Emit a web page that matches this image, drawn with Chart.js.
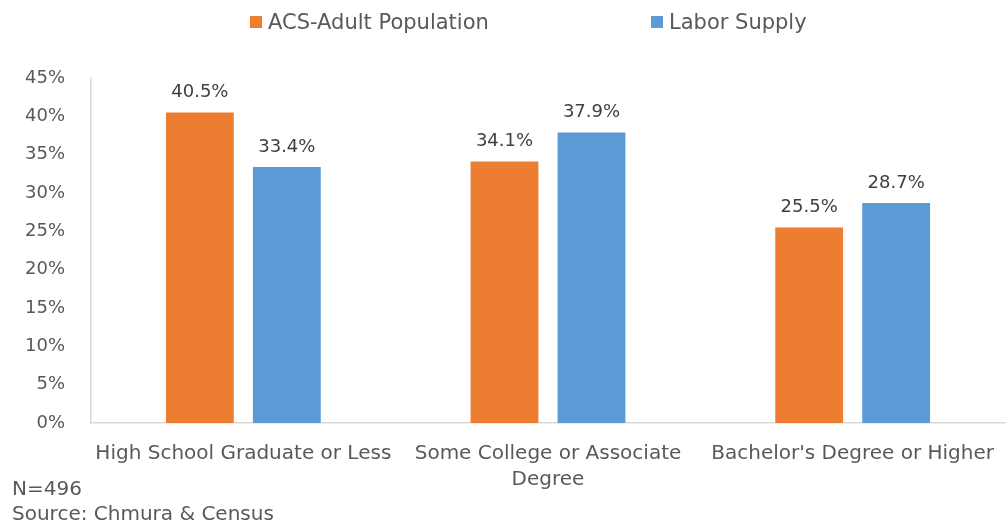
<!DOCTYPE html>
<html>
<head>
<meta charset="utf-8">
<script src="https://cdn.jsdelivr.net/npm/chart.js@4"></script>
<style>
  body { margin: 0; background: #fff; font-family: "DejaVu Sans", sans-serif; color: #595959; }
  #wrap { position: relative; width: 1006px; height: 525px; }
  #legend { position: absolute; top: 10px; left: 0; width: 1006px; height: 28px; }
  .item { position: absolute; display: flex; align-items: center; font-size: 21px; white-space: nowrap; }
  .item i { display: inline-block; width: 12px; height: 12px; margin-right: 6px; }
  .note { position: absolute; left: 12px; font-size: 20px; white-space: nowrap; }
</style>
</head>
<body>
<div id="wrap">
  <canvas id="chart" width="1006" height="525"></canvas>
  <div id="legend"></div>
  <div class="note" style="top:476px">N=496</div>
  <div class="note" style="top:501px">Source: Chmura &amp; Census</div>
</div>
<script>
const categories = [
  "High School Graduate or Less",
  ["Some College or Associate", "Degree"],
  "Bachelor's Degree or Higher"
];
const seriesNames = ["ACS-Adult Population", "Labor Supply"];
const acsAdult = [40.5, 34.1, 25.5];
const laborSupply = [33.4, 37.9, 28.7];
const yTicks = [0, 5, 10, 15, 20, 25, 30, 35, 40, 45];

const colors = ["#ED7D31", "#5B9BD5"];
const legendLeft = [250, 651];
const font = "DejaVu Sans";

const legend = document.getElementById("legend");
seriesNames.forEach((name, i) => {
  const el = document.createElement("div");
  el.className = "item";
  el.style.left = legendLeft[i] + "px";
  el.innerHTML = `<i style="background:${colors[i]}"></i>${name}`;
  legend.appendChild(el);
});

const barLabels = {
  id: "barLabels",
  afterDatasetsDraw(chart) {
    const ctx = chart.ctx;
    ctx.save();
    ctx.font = "18px '" + font + "'";
    ctx.fillStyle = "#404040";
    ctx.textAlign = "center";
    ctx.textBaseline = "bottom";
    chart.data.datasets.forEach((ds, i) => {
      chart.getDatasetMeta(i).data.forEach((bar, j) => {
        ctx.fillText(ds.data[j].toFixed(1) + "%", bar.x, bar.y - 11);
      });
    });
    ctx.restore();
  }
};

new Chart(document.getElementById("chart"), {
  type: "bar",
  data: {
    labels: categories,
    datasets: [
      { label: seriesNames[0], data: acsAdult, backgroundColor: colors[0] },
      { label: seriesNames[1], data: laborSupply, backgroundColor: colors[1] }
    ]
  },
  options: {
    responsive: false,
    animation: false,
    layout: { padding: { top: 78, right: 1, bottom: 27, left: 0 } },
    datasets: { bar: { categoryPercentage: 0.571, barPercentage: 0.78 } },
    plugins: { legend: { display: false }, tooltip: { enabled: false } },
    scales: {
      x: {
        grid: { display: false },
        border: { color: "#d9d9d9", width: 1.5 },
        ticks: { color: "#595959", font: { family: font, size: 20, lineHeight: 1.3 }, maxRotation: 0, padding: 10 },
        afterFit: s => { s.height = 75; }
      },
      y: {
        min: 0,
        max: 45,
        afterBuildTicks: s => { s.ticks = yTicks.map(v => ({ value: v })); },
        grid: { display: false },
        border: { color: "#d9d9d9", width: 1.5 },
        ticks: { color: "#595959", font: { family: font, size: 18 }, padding: 18, callback: v => v + "%" },
        afterFit: s => { s.width = 91; }
      }
    }
  },
  plugins: [barLabels]
});
</script>
</body>
</html>
